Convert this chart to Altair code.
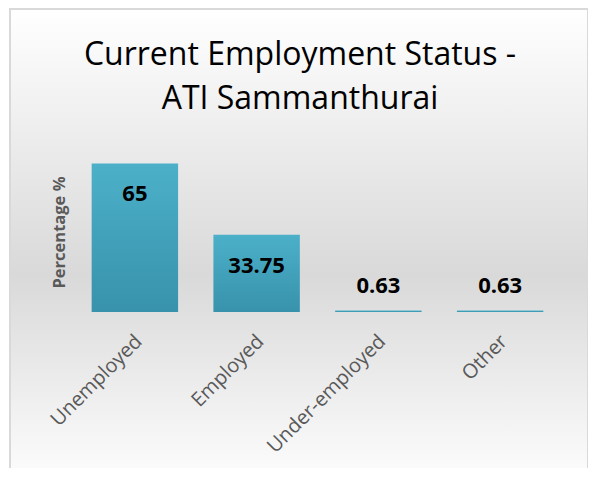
import altair as alt
import pandas as pd

categories = ["Unemployed", "Employed", "Under-employed", "Other"]
values = [65, 33.75, 0.63, 0.63]
title_lines = ["Current Employment Status -", "ATI Sammanthurai"]
y_title = "Percentage %"

df = pd.DataFrame({"status": categories, "pct": values})
bg = pd.DataFrame({"k": [0]})

FONT = "Open Sans"
GRAY = "#595959"

bg_fill = alt.LinearGradient(
    gradient="linear", x1=0, y1=0, x2=0, y2=1,
    stops=[alt.GradientStop(color="#ffffff", offset=0),
           alt.GradientStop(color="#d9d9d9", offset=0.55),
           alt.GradientStop(color="#ffffff", offset=1)],
)
bar_fill = alt.LinearGradient(
    gradient="linear", x1=0, y1=0, x2=0, y2=1,
    stops=[alt.GradientStop(color="#4cb0c9", offset=0),
           alt.GradientStop(color="#3892ab", offset=1)],
)

background = alt.Chart(bg).mark_rect(
    fill=bg_fill, stroke="#d9d9d9", strokeWidth=2
).encode(
    x=alt.value(-64), x2=alt.value(514), y=alt.value(-143), y2=alt.value(340)
)

x_enc = alt.X(
    "status:N", sort=categories, title=None,
    scale=alt.Scale(paddingInner=0.29, paddingOuter=0.145),
    axis=alt.Axis(labelAngle=-45, labelAlign="right", labelBaseline="middle",
                  labelFont=FONT, labelFontSize=20, labelColor=GRAY,
                  labelPadding=26, labelOffset=4, ticks=False, tickSize=0,
                  domain=False, grid=False, zindex=2),
)
y_enc = alt.Y(
    "pct:Q", scale=alt.Scale(domain=[0, 70]), title=y_title,
    axis=alt.Axis(labels=False, ticks=False, domain=False, grid=False,
                  titleFont=FONT, titleFontSize=16.5, titleFontWeight="bold",
                  titleColor=GRAY, titleX=-7, titleY=80, titleAlign="center",
                  titleBaseline="bottom", titleAngle=-90, zindex=2),
)

base = alt.Chart(df).encode(x=x_enc, y=y_enc)
bars = base.mark_bar(fill=bar_fill)
big = base.transform_filter("datum.pct > 10").mark_text(
    dy=38, font=FONT, fontSize=22, fontWeight="bold", color="black", baseline="alphabetic"
).encode(text=alt.Text("pct:Q", format="~g"))
small = base.transform_filter("datum.pct <= 10").mark_text(
    dy=-18, font=FONT, fontSize=22, fontWeight="bold", color="black", baseline="alphabetic"
).encode(text=alt.Text("pct:Q", format="~g"))

chart = alt.layer(background, bars, big, small).properties(
    width=487, height=160,
    autosize=alt.AutoSizeParams(type="none"),
    padding={"left": 66, "top": 144, "right": 27, "bottom": 156},
    title=alt.Title(title_lines, font=FONT, fontSize=32, fontWeight="normal",
                    color="black", anchor="middle", frame="group",
                    baseline="top", lineHeight=44, dx=-17.5, offset=0, dy=108),
).configure_view(stroke=None).configure(background="white")

chart.save("out.html", embed_options={"renderer": "svg", "actions": False})
